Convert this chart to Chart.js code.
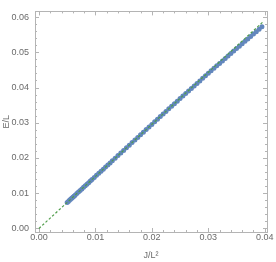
<!DOCTYPE html>
<html>
<head>
<meta charset="utf-8">
<script src="https://cdn.jsdelivr.net/npm/chart.js@4/dist/chart.umd.min.js"></script>
<style>
  html, body { margin: 0; padding: 0; background: #fff; }
  #wrap { width: 276px; height: 262px; }
</style>
</head>
<body>
<div id="wrap"><canvas id="c"></canvas></div>
<script>
// data
const jOverL2 = [
  0.0050, 0.0052, 0.0054, 0.0056, 0.0058, 0.0060, 0.0062, 0.0064, 0.0067, 0.0070,
  0.0073, 0.0076, 0.0079, 0.0082, 0.0085, 0.0088, 0.0091, 0.0094, 0.0098, 0.0102,
  0.0106, 0.0110, 0.0114, 0.0118, 0.0122, 0.0126, 0.0130, 0.0135, 0.0140, 0.0145,
  0.0150, 0.0155, 0.0160, 0.0165, 0.0170, 0.0175, 0.0180, 0.0185, 0.0190, 0.0195,
  0.0200, 0.0205, 0.0210, 0.0215, 0.0220, 0.0225, 0.0230, 0.0235, 0.0240, 0.0245,
  0.0250, 0.0255, 0.0260, 0.0265, 0.0270, 0.0275, 0.0280, 0.0285, 0.0290, 0.0295,
  0.0300, 0.0305, 0.0310, 0.0315, 0.0320, 0.0325, 0.0330, 0.0335, 0.0340, 0.0345,
  0.0350, 0.0355, 0.0360, 0.0365, 0.0370, 0.0375, 0.0380, 0.0385, 0.0390, 0.0395
];
const eOverL = [
  0.00739, 0.00768, 0.00798, 0.00827, 0.00857, 0.00886, 0.00916, 0.00945, 0.00990, 0.01034,
  0.01078, 0.01123, 0.01167, 0.01211, 0.01255, 0.01300, 0.01344, 0.01388, 0.01447, 0.01507,
  0.01566, 0.01625, 0.01684, 0.01743, 0.01802, 0.01861, 0.01920, 0.01994, 0.02068, 0.02142,
  0.02216, 0.02289, 0.02363, 0.02437, 0.02511, 0.02585, 0.02659, 0.02732, 0.02806, 0.02880,
  0.02954, 0.03028, 0.03102, 0.03175, 0.03248, 0.03321, 0.03394, 0.03467, 0.03540, 0.03613,
  0.03686, 0.03757, 0.03830, 0.03902, 0.03974, 0.04046, 0.04117, 0.04188, 0.04260, 0.04331,
  0.04402, 0.04473, 0.04544, 0.04615, 0.04684, 0.04755, 0.04825, 0.04895, 0.04965, 0.05035,
  0.05105, 0.05173, 0.05242, 0.05311, 0.05380, 0.05449, 0.05518, 0.05586, 0.05655, 0.05724
];
// dashed fit line endpoints
const fitX = [0.0, 0.0396];
const fitY = [0.0, 0.0585];

const xTicks = [0.00, 0.01, 0.02, 0.03, 0.04];
const yTicks = [0.00, 0.01, 0.02, 0.03, 0.04, 0.05, 0.06];

const FONT = "'Liberation Sans', Arial, sans-serif";
const GREY = '#6a6a6a';
const FRAME = '#b4b4b4';

// frame with inward major/minor ticks, Mathematica style
const framePlugin = {
  id: 'frame',
  beforeDatasetsDraw(chart) {
    const { ctx, chartArea: a, scales: { x, y } } = chart;
    ctx.save();
    ctx.strokeStyle = FRAME;
    ctx.lineWidth = 1;
    ctx.strokeRect(Math.round(a.left) + 0.5, Math.round(a.top) + 0.5,
      Math.round(a.right - a.left), Math.round(a.bottom - a.top));
    ctx.beginPath();
    for (let i = -1; i <= 41; i++) {
      const v = i * 0.001;
      if (v < x.min || v > x.max || i % 2) continue;
      const px = Math.round(x.getPixelForValue(v)) + 0.5;
      const len = i % 10 === 0 ? 4 : 2;
      ctx.moveTo(px, a.bottom); ctx.lineTo(px, a.bottom - len);
      ctx.moveTo(px, a.top); ctx.lineTo(px, a.top + len);
    }
    for (let i = -1; i <= 62; i++) {
      const v = i * 0.001;
      if (v < y.min || v > y.max || i % 2) continue;
      const py = Math.round(y.getPixelForValue(v)) + 0.5;
      const len = i % 10 === 0 ? 4 : 2;
      ctx.moveTo(a.left, py); ctx.lineTo(a.left + len, py);
      ctx.moveTo(a.right, py); ctx.lineTo(a.right - len, py);
    }
    ctx.stroke();
    ctx.restore();
  }
};

new Chart(document.getElementById('c'), {
  type: 'scatter',
  data: {
    datasets: [
      {
        label: 'fit',
        type: 'line',
        data: fitX.map((v, i) => ({ x: v, y: fitY[i] })),
        borderColor: '#4f9d4a',
        borderWidth: 1.2,
        borderDash: [2.5, 2],
        pointRadius: 0,
        order: 0
      },
      {
        label: 'data',
        data: jOverL2.map((v, i) => ({ x: v, y: eOverL[i] })),
        backgroundColor: '#6387bd',
        borderWidth: 0,
        pointRadius: 2.5,
        order: 1
      }
    ]
  },
  options: {
    responsive: true,
    maintainAspectRatio: false,
    animation: false,
    layout: { padding: { top: 1, right: 9, bottom: 0, left: 1 } },
    plugins: { legend: { display: false }, tooltip: { enabled: false } },
    scales: {
      x: {
        type: 'linear',
        min: -0.0007, max: 0.0404,
        grid: { display: false, drawTicks: false },
        border: { display: false },
        afterBuildTicks: s => { s.ticks = xTicks.map(v => ({ value: v })); },
        afterFit: s => { s.height = 30; },
        ticks: {
          color: GREY, font: { family: FONT, size: 9 }, padding: 0,
          maxRotation: 0, callback: v => v.toFixed(2)
        },
        title: {
          display: true, text: 'J/L\u00b2', color: GREY,
          font: { family: FONT, size: 9 }, padding: { top: 4, bottom: 1 }
        }
      },
      y: {
        type: 'linear',
        min: -0.001, max: 0.0616,
        grid: { display: false, drawTicks: false },
        border: { display: false },
        afterBuildTicks: s => { s.ticks = yTicks.map(v => ({ value: v })); },
        afterFit: s => { s.width = 34; },
        ticks: {
          color: GREY, font: { family: FONT, size: 9 }, padding: 6,
          callback: v => v.toFixed(2)
        },
        title: {
          display: true, text: 'E/L', color: GREY,
          font: { family: FONT, size: 9 }, padding: 0
        }
      }
    }
  },
  plugins: [framePlugin]
});
</script>
</body>
</html>
